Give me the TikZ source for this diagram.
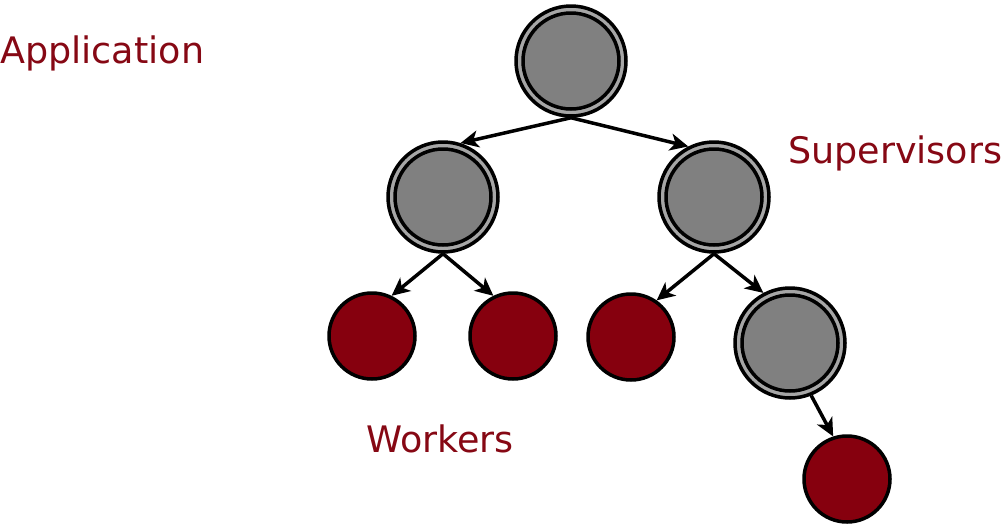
\documentclass[tikz,border=0pt]{standalone}
\usepackage{fontspec}
\setmainfont{DejaVu Sans}
\usetikzlibrary{arrows.meta}
\definecolor{wred}{RGB}{134,0,14}
\definecolor{tred}{RGB}{134,8,20}
\definecolor{ringgray}{RGB}{166,166,166}
\definecolor{coregray}{RGB}{128,128,128}
\tikzset{
  sup/.style={circle, draw=black, line width=3.5pt, fill=ringgray, minimum size=110pt, inner sep=0pt,
    path picture={\draw[line width=3.5pt, fill=coregray] (path picture bounding box.center) circle (48pt);}},
  worker/.style={circle, draw=black, line width=3.5pt, fill=wred, minimum size=86pt, inner sep=0pt},
  link/.style={line width=3.5pt, -{Stealth[length=18pt,width=17pt,inset=5pt]}},
  lbl/.style={anchor=base west, inner sep=0pt, text=tred, font=\fontsize{36.5}{42}\selectfont}
}
\begin{document}
\begin{tikzpicture}[x=1pt,y=-1pt]
\useasboundingbox (0,0) rectangle (1006,528);
\node[sup] (root) at (571,61) {};
\node[sup] (s1) at (443,197) {};
\node[sup] (s2) at (714,197) {};
\node[worker] (w1) at (372,336) {};
\node[worker] (w2) at (513,336) {};
\node[worker] (w3) at (631,337) {};
\node[sup] (s3) at (790,343) {};
\node[worker] (w4) at (847,479) {};
\draw[link] (root.south) -- (s1.72);
\draw[link] (root.south) -- (s2.117);
\draw[link] (s1.south) -- (w1.64);
\draw[link] (s1.south) -- (w2.116);
\draw[link] (s2.south) -- (w3.55);
\draw[link] (s2.south) -- (s3.118);
\draw[link] (s3.-68) -- (w4.108);
\node[lbl] (tapp) at (0,63) {Application};
\node[lbl] (tsup) at (788,163) {Supervisors};
\node[lbl] (twork) at (366,452) {Workers};
\end{tikzpicture}
\end{document}
